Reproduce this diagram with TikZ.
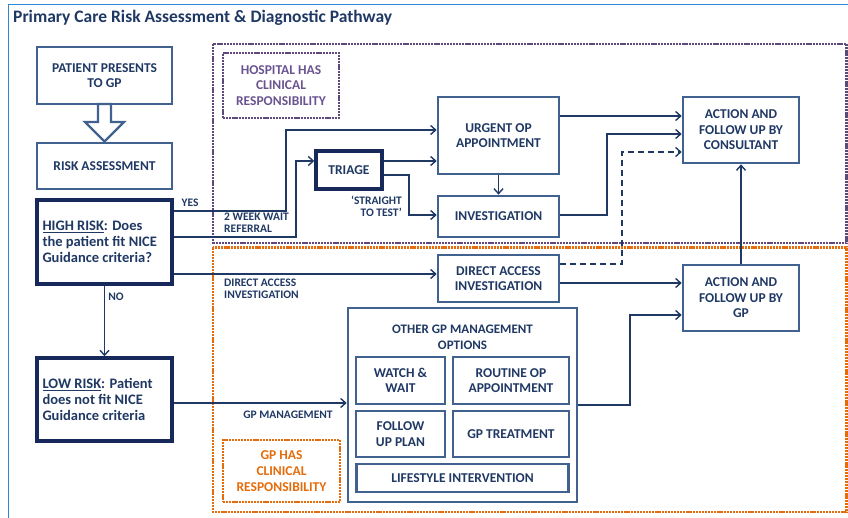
\documentclass[tikz,border=0pt]{standalone}
\usepackage{fontspec}
\setmainfont{Carlito}
\usetikzlibrary{arrows.meta}
\definecolor{navy}{HTML}{1F3864}
\definecolor{steel}{HTML}{41628F}
\definecolor{deepnavy}{HTML}{17295A}
\definecolor{hosp}{HTML}{5F497A}
\definecolor{hosptext}{HTML}{6A5490}
\definecolor{gporange}{HTML}{E46C0A}
\definecolor{frameblue}{HTML}{2E86D6}
\tikzset{
  box/.style={draw=steel, line width=2.6pt, fill=white, align=center, text=navy,
    font=\bfseries\fontsize{13.5}{15.5}\selectfont, inner sep=1pt},
  keybox/.style={box, draw=deepnavy, line width=3.4pt},
  conn/.style={draw=navy, line width=1.4pt, -{Straight Barb[length=5pt,width=9pt,line width=1.4pt]}},
  lbl/.style={text=navy, font=\bfseries\fontsize{11.5}{12.5}\selectfont, inner sep=0pt},
  zone/.style={line width=2.2pt, dash pattern=on 2.2pt off 0.9pt},
}
\newcommand{\boxat}[6][box]{\node[#1, minimum width=#4, minimum height=#5] (#2) at (#3) {#6};}
\begin{document}
\begin{tikzpicture}[x=1pt,y=-1pt]
\useasboundingbox (0,0) rectangle (848,518);
% outer frame and title
\draw[frameblue, line width=1.3pt] (8.5,518) -- (8.5,4.5) -- (848,4.5);
\node[anchor=west, text=navy, font=\bfseries\fontsize{17.5}{19}\selectfont, inner sep=0pt] (title) at (13,18) {Primary Care Risk Assessment \& Diagnostic Pathway};

% responsibility zones
\draw[zone, draw=hosp] (213,44) rectangle (846.5,243);
\draw[zone, draw=gporange] (213,247.5) rectangle (846.5,512);
\node[zone, draw=hosp, minimum width=116, minimum height=65, align=center, text=hosptext,
  font=\bfseries\fontsize{13.5}{15.5}\selectfont] (hosplabel) at (281,85.5) {HOSPITAL HAS\\CLINICAL\\RESPONSIBILITY};
\node[zone, draw=gporange, minimum width=117, minimum height=62, align=center, text=gporange,
  font=\bfseries\fontsize{13.5}{16}\selectfont] (gplabel) at (281.5,471) {GP HAS\\CLINICAL\\RESPONSIBILITY};

% primary care column
\boxat{pp}{104.5,75.5}{135}{57}{PATIENT PRESENTS\\TO GP}
\boxat{ra}{104.5,166}{135}{46}{RISK ASSESSMENT}
\boxat[keybox]{hr}{104.5,242}{135}{84}{\parbox{124pt}{\raggedright\fontsize{14.5}{16}\selectfont\underline{HIGH RISK}: Does\\the patient fit NICE\\Guidance criteria?}}
\boxat[keybox]{lr}{104.5,399.5}{135}{83}{\parbox{124pt}{\raggedright\fontsize{14.5}{16}\selectfont\underline{LOW RISK}: Patient\\does not fit NICE\\Guidance criteria}}

% hollow arrow between the first two boxes
\draw[steel, line width=2.2pt, fill=white, line join=miter]
  (98,104) -- (111,104) -- (111,122) -- (124,122) -- (104.5,141.5) -- (85,122) -- (98,122) -- cycle;

% hospital pathway
\boxat[keybox]{triage}{349,170}{66}{38}{TRIAGE}
\boxat{urgent}{498.5,135.5}{121}{77}{URGENT OP\\APPOINTMENT}
\boxat{inv}{498.5,216.5}{121}{41}{INVESTIGATION}
\boxat{cons}{741,130}{116}{66}{ACTION AND\\FOLLOW UP BY\\CONSULTANT}

% GP pathway
\boxat{da}{498.5,278.5}{121}{47}{DIRECT ACCESS\\INVESTIGATION}
\boxat{gp}{741,298}{116}{66}{ACTION AND\\FOLLOW UP BY\\GP}
\boxat{other}{462.5,405}{229}{194}{}
\node[text=navy, font=\bfseries\fontsize{13}{16}\selectfont, align=center] (othertxt) at (462.5,337) {OTHER GP MANAGEMENT\\OPTIONS};
\boxat{ww}{400.5,380.5}{89}{47}{WATCH \&\\WAIT}
\boxat{rop}{511,380.5}{116}{47}{ROUTINE OP\\APPOINTMENT}
\boxat{fup}{400.5,434}{89}{46}{FOLLOW\\UP PLAN}
\boxat{gpt}{511,434}{116}{46}{GP TREATMENT}
\boxat{life}{462.5,478}{212}{28}{LIFESTYLE INTERVENTION}

% connectors
\draw[conn] (hr.east |- 0,211) -- (286,211) |- (urgent.west |- 0,130);
\draw[conn] (hr.east |- 0,237) -- (296,237) |- (triage.west |- 0,161);
\draw[conn] (triage.east |- 0,161) -- (urgent.west |- 0,161);
\draw[conn] (triage.east |- 0,175) -- (409,175) |- (inv.west |- 0,215);
\draw[conn] (urgent.south) -- (inv.north);
\draw[conn] (urgent.east |- 0,116) -- (cons.west |- 0,116);
\draw[conn] (inv.east |- 0,215) -- (607,215) |- (cons.west |- 0,134);
\draw[conn, dash pattern=on 6pt off 4pt] (da.east |- 0,264) -- (622,264) |- (cons.west |- 0,152);
\draw[conn] (hr.east |- 0,274) -- (da.west |- 0,274);
\draw[conn] (da.east |- 0,283) -- (gp.west |- 0,283);
\draw[conn] (gp.north) -- (cons.south);
\draw[conn] (other.east |- 0,405) -- (630,405) |- (gp.west |- 0,315);
\draw[conn] (lr.east |- 0,403) -- (other.west |- 0,403);
\draw[conn] (hr.south) -- (lr.north);

% connector labels
\node[lbl] (yes) at (190,203) {YES};
\node[lbl] (no) at (116,297) {NO};
\node[lbl, anchor=north west, align=left] (twoweek) at (224,212.5) {2 WEEK WAIT\\REFERRAL};
\node[lbl, anchor=north east, align=right] (stt) at (402,195.5) {‘STRAIGHT\\TO TEST’};
\node[lbl, anchor=north west, align=left] (dalbl) at (224,278.5) {DIRECT ACCESS\\INVESTIGATION};
\node[lbl] (gpm) at (288,415) {GP MANAGEMENT};
\end{tikzpicture}
\end{document}
